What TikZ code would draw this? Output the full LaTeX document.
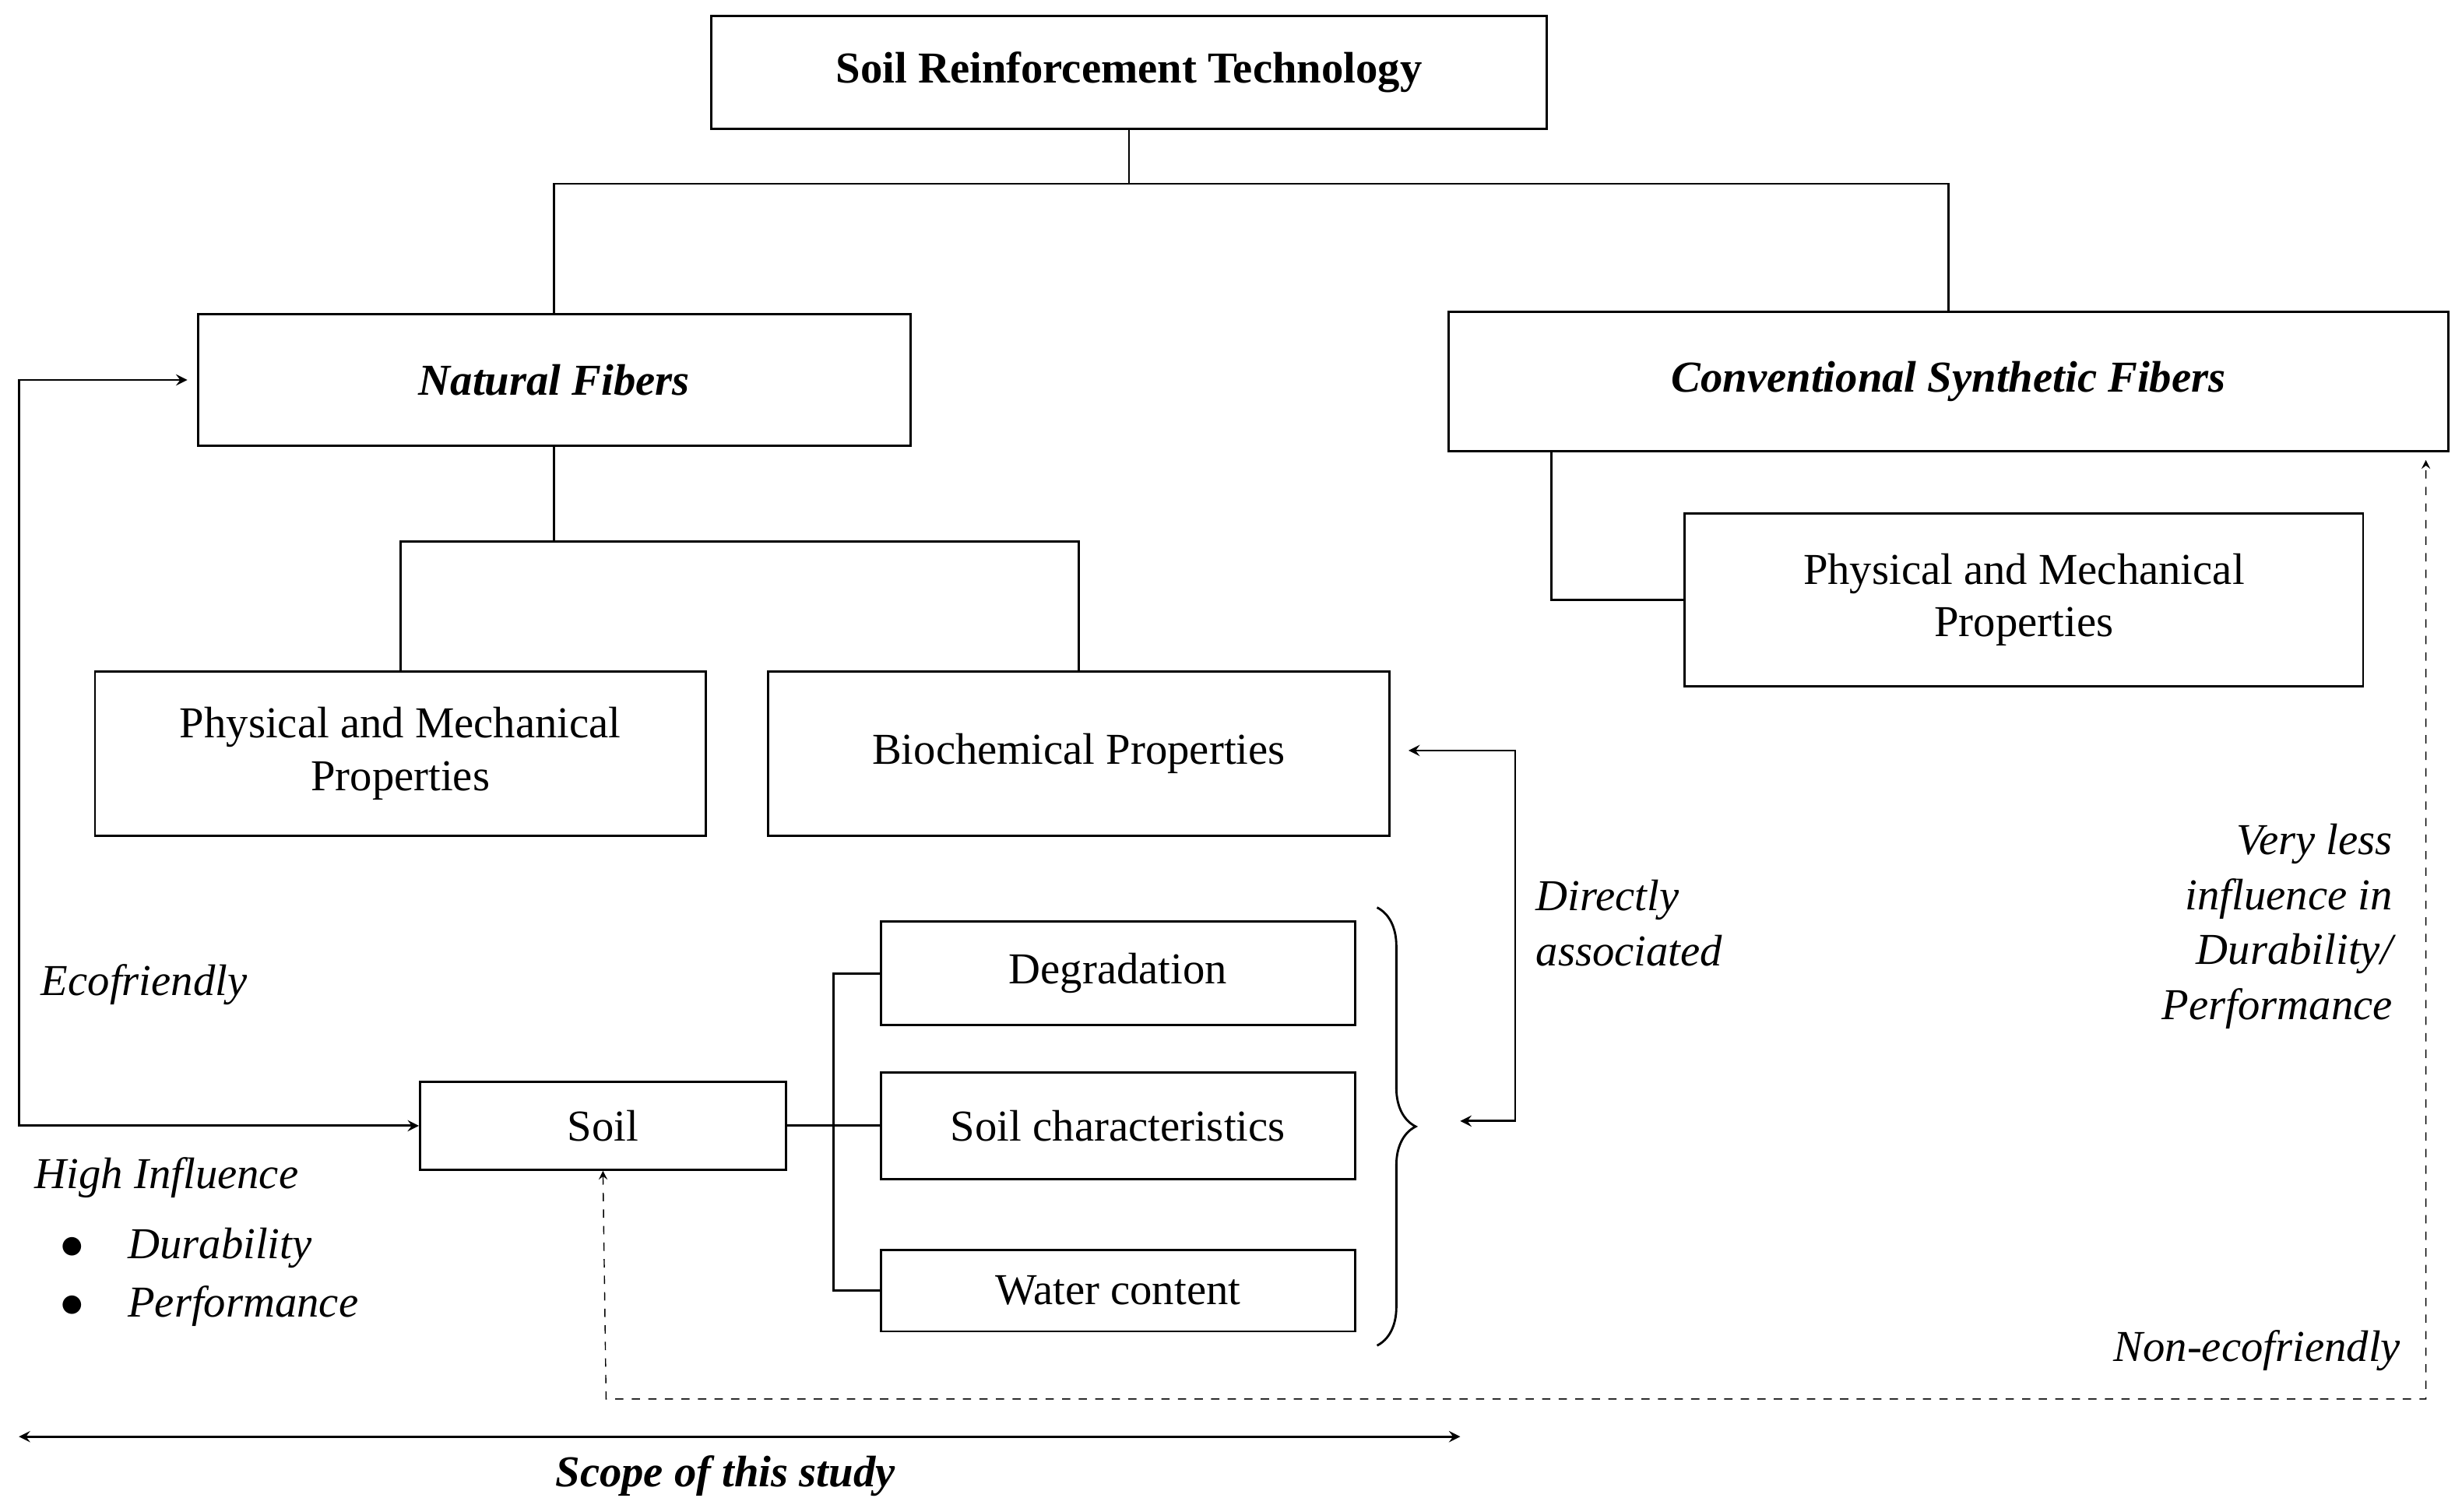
\documentclass[tikz,border=0pt]{standalone}
\usepackage{fontspec}
\setmainfont{Liberation Serif}
\usetikzlibrary{arrows,decorations.pathreplacing}
\tikzstyle{box} = [draw=black, thick, align=center, inner sep=0pt]
\tikzstyle{arrow} = [thick,<->,>=stealth]
\tikzstyle{connect} = [thick,-]
\tikzstyle{lbl} = [font=\fontsize{16}{20}\selectfont\itshape, align=left]
\begin{document}
\begin{tikzpicture}[x=0.02cm,y=-0.02cm,font=\fontsize{16}{19}\selectfont]

\useasboundingbox (0,0) rectangle (1568,963);

\node(srt)[box, minimum width=532*0.02cm, minimum height=72*0.02cm, font=\fontsize{16}{19}\selectfont\bfseries] at (719,46) {Soil Reinforcement Technology};
\node(nf)[box, minimum width=454*0.02cm, minimum height=84*0.02cm, font=\fontsize{16}{19}\selectfont\bfseries\itshape] at (353,242) {Natural Fibers};
\node(csf)[box, minimum width=637*0.02cm, minimum height=89*0.02cm, font=\fontsize{16}{19}\selectfont\bfseries\itshape] at (1241,243) {Conventional Synthetic Fibers};
\node(pm1)[box, minimum width=389*0.02cm, minimum height=105*0.02cm] at (255,480) {Physical and Mechanical\\Properties};
\node(bio)[box, minimum width=396*0.02cm, minimum height=105*0.02cm] at (687,480) {Biochemical Properties};
\node(pm2)[box, minimum width=432*0.02cm, minimum height=110*0.02cm] at (1289,382) {Physical and Mechanical\\Properties};
\node(deg)[box, minimum width=302*0.02cm, minimum height=66*0.02cm] at (712,620) {Degradation};
\node(sc)[box, minimum width=302*0.02cm, minimum height=68*0.02cm] at (712,717) {Soil characteristics};
\node(wc)[box, minimum width=302*0.02cm, minimum height=52*0.02cm] at (712,822) {Water content};
\node(soil)[box, minimum width=233*0.02cm, minimum height=56*0.02cm] at (384,717) {Soil};

\coordinate (brtip) at (930,714);
\coordinate (bioin) at (897,478);

% tree
\draw [connect] (srt.south) -- (719,117) -| (nf.north);
\draw [connect] (719,117) -| (csf.north);
\draw [connect] (nf.south) -- (353,345) -| (pm1.north);
\draw [connect] (353,345) -| (bio.north);
\draw [connect] (988,288) |- (pm2.west);
\draw [connect] (soil.east) -- (sc.west);
\draw [connect] (deg.west) -| (531,717) |- (wc.west);

\draw [thick, decorate, decoration={brace, amplitude=14pt}] (877,578) -- (877,857);

% arrows
\draw [arrow] (brtip) -- (965,714) |- (bioin);
\draw [arrow] (soil.west) -- (12,717) |- ([xshift=-6*0.02cm]nf.west);
\draw [arrow, dashed, thin] (soil.south) -- (386,891) -| (1545,293);
\draw [arrow] (12,915) -- (930,915);

% labels
\node[lbl, anchor=west] at (972,588) {Directly\\associated};
\node[lbl, anchor=west] at (20,627) {Ecofriendly};
\node[lbl, anchor=west] at (16,750) {High Influence};
\node[lbl, anchor=west] at (32,795) {$\bullet$\quad Durability};
\node[lbl, anchor=west] at (32,832) {$\bullet$\quad Performance};
\node[lbl, anchor=east, align=right] at (1530,590) {Very less\\influence in\\Durability/\\Performance};
\node[lbl, anchor=east] at (1535,860) {Non-ecofriendly};
\node[font=\fontsize{16}{19}\selectfont\bfseries\itshape] at (462,940) {Scope of this study};

\end{tikzpicture}
\end{document}
